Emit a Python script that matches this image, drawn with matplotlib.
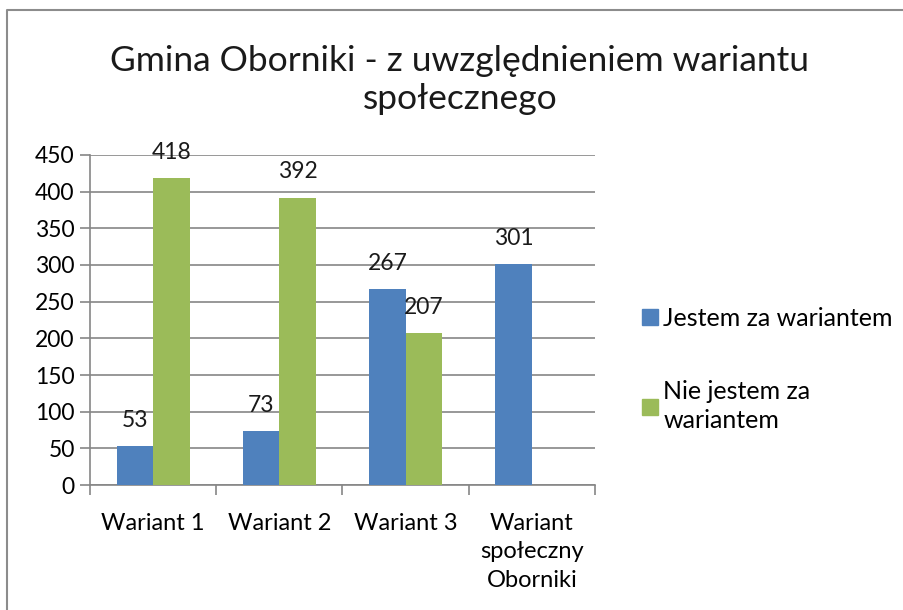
import matplotlib
matplotlib.use("Agg")
import matplotlib.pyplot as plt
import numpy as np
from matplotlib.lines import Line2D

plt.rcParams["font.family"] = ["Lato", "DejaVu Sans"]

# Data
CATEGORIES = ["Wariant 1", "Wariant 2", "Wariant 3", "Wariant\nspołeczny\nOborniki"]
JESTEM = [53, 73, 267, 301]
NIE_JESTEM = [418, 392, 207, None]
SERIES_NAMES = ["Jestem za wariantem", "Nie jestem za\nwariantem"]
Y_TICKS = [0, 50, 100, 150, 200, 250, 300, 350, 400, 450]
TITLE = "Gmina Oborniki - z uwzględnieniem wariantu\nspołecznego"

BLUE = "#4F81BD"
GREEN = "#9BBB59"
GRID = "#868686"

fig = plt.figure(figsize=(9.04, 6.10), dpi=100)
ax = fig.add_axes([90 / 904, 1 - 485 / 610, 505 / 904, 330 / 610])

x = np.arange(len(CATEGORIES))
width = 0.29

for vals, color, off in [(JESTEM, BLUE, -width / 2), (NIE_JESTEM, GREEN, width / 2)]:
    for xi, v in zip(x, vals):
        if v is None:
            continue
        ax.bar(xi + off, v, width=width, color=color, zorder=3)
        ax.annotate(str(v), (xi + off, v), xytext=(0, 11), textcoords="offset points",
                    ha="center", va="bottom", fontsize=16.5, color="#1a1a1a", zorder=4)

ax.set_xlim(-0.5, len(CATEGORIES) - 0.5)
ax.set_ylim(0, 450)
ax.set_yticks(Y_TICKS)
ax.tick_params(axis="y", labelsize=16.5, length=7, color=GRID, pad=4, width=1.2)
ax.yaxis.grid(True, color=GRID, linewidth=1.2, zorder=0)

# category labels centered, ticks at category boundaries
ax.set_xticks(x)
ax.set_xticklabels(CATEGORIES, fontsize=17, linespacing=1.45)
ax.tick_params(axis="x", length=0, pad=20)
ax.set_xticks(np.arange(len(CATEGORIES) + 1) - 0.5, minor=True)
ax.tick_params(axis="x", which="minor", length=7, color=GRID, width=1.2)

for side in ["top", "right"]:
    ax.spines[side].set_visible(False)
for side in ["left", "bottom"]:
    ax.spines[side].set_color(GRID)
    ax.spines[side].set_linewidth(1.2)

fig.text(460 / 904, 1 - 80 / 610, TITLE, ha="center", va="center", fontsize=25.5,
         linespacing=1.25, color="#1a1a1a")

handles = [Line2D([], [], marker="s", linestyle="", markersize=11, color=BLUE),
           Line2D([], [], marker="s", linestyle="", markersize=11, color=GREEN)]
leg = fig.legend(handles, SERIES_NAMES, loc="upper left",
                 bbox_to_anchor=(627 / 904, 1 - 297 / 610),
                 frameon=False, fontsize=18, labelspacing=2.0, handletextpad=0.05,
                 handlelength=1.0, borderaxespad=0)
for t in leg.get_texts():
    t.set_linespacing(1.3)

# chart frame (top and left edges visible in the reference)
fig.add_artist(Line2D([7 / 904, 7 / 904, 1], [0, 1 - 10 / 610, 1 - 10 / 610],
                      transform=fig.transFigure, color="#8c8c8c", linewidth=1.5))

fig.savefig("out.png", dpi=100, facecolor="white")
